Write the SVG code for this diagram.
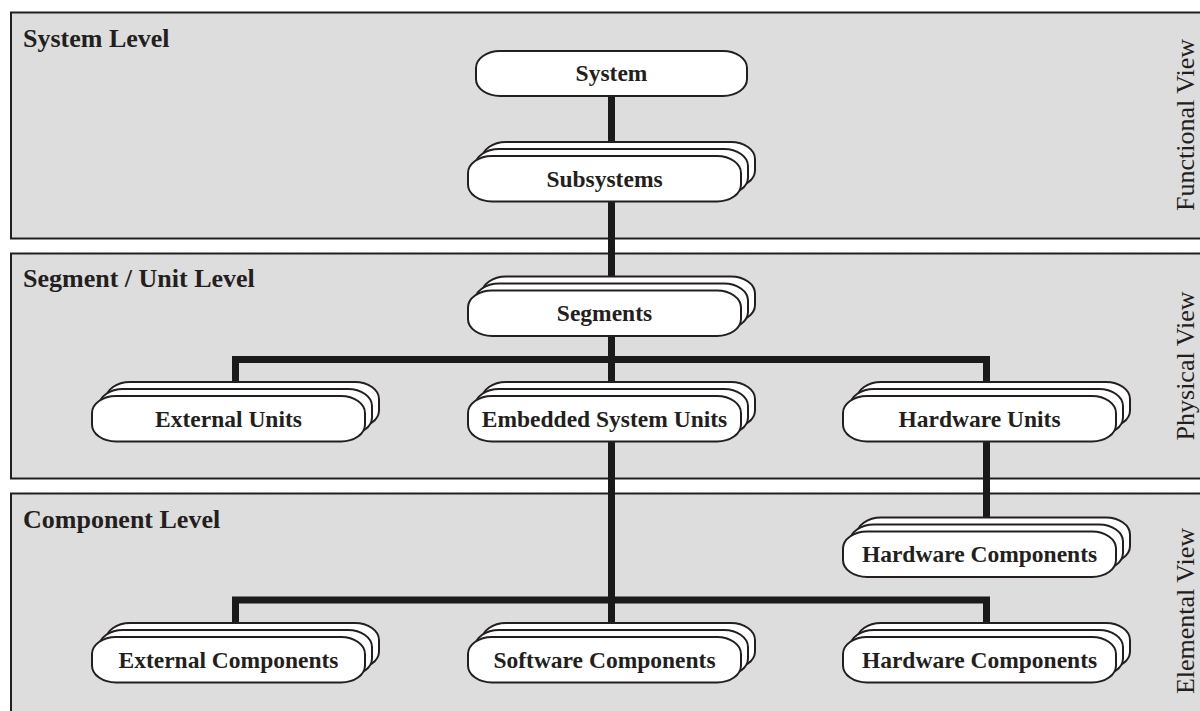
<svg xmlns="http://www.w3.org/2000/svg" xmlns:xlink="http://www.w3.org/1999/xlink" width="1200" height="711" viewBox="0 0 1200 711">
  <style>
    .panel { fill: #dddddd; stroke: #231f20; stroke-width: 2; }
    .level { font-family: "Liberation Serif", "Times New Roman", serif; font-weight: bold; font-size: 26px; fill: #231f20; }
    .view { font-family: "Liberation Serif", "Times New Roman", serif; font-size: 26px; fill: #231f20; text-anchor: middle; }
    .box { fill: #ffffff; stroke: #231f20; stroke-width: 2; }
    .label { font-family: "Liberation Serif", "Times New Roman", serif; font-weight: bold; font-size: 23.5px; fill: #231f20; text-anchor: middle; }
    .link { fill: none; stroke: #1a1a1a; stroke-width: 7; stroke-linejoin: miter; stroke-linecap: butt; }
  </style>
  <defs>
    <!-- three stacked pills: back, middle, front (front sits at 0,0) -->
    <g id="stack">
      <rect class="box" x="14" y="-14" width="273" height="45.5" rx="24" ry="17"/>
      <rect class="box" x="7" y="-7" width="273" height="45.5" rx="24" ry="17"/>
      <rect class="box" x="0" y="0" width="273" height="45.5" rx="24" ry="17"/>
    </g>
  </defs>

  <rect width="1200" height="711" fill="#ffffff"/>

  <!-- level bands -->
  <g id="bands">
    <rect class="panel" x="11" y="12.5" width="1200" height="226"/>
    <rect class="panel" x="11" y="253.5" width="1200" height="225"/>
    <rect class="panel" x="11" y="493.5" width="1200" height="230"/>
    <text class="level" x="23" y="47">System Level</text>
    <text class="level" x="23" y="287">Segment / Unit Level</text>
    <text class="level" x="23" y="528">Component Level</text>
    <text class="view" transform="translate(1194,125) rotate(-90)">Functional View</text>
    <text class="view" transform="translate(1194,366) rotate(-90)">Physical View</text>
    <text class="view" transform="translate(1194,611) rotate(-90)">Elemental View</text>
  </g>

  <!-- connectors -->
  <g id="connectors">
    <path class="link" d="M611.5 96 V142"/>
    <path class="link" d="M611.5 201.5 V276.5"/>
    <path class="link" d="M611.5 336 V382"/>
    <path class="link" d="M235.5 382 V359.5 H986.5 V382"/>
    <path class="link" d="M611.5 441.5 V623"/>
    <path class="link" d="M986.5 441.5 V517.5"/>
    <path class="link" d="M235.5 623 V600 H986.5 V623"/>
  </g>

  <!-- nodes -->
  <g id="node-system">
    <rect class="box" x="476" y="51" width="271" height="45" rx="24" ry="17"/>
    <text class="label" x="611.5" y="81">System</text>
  </g>
  <g id="node-subsystems">
    <use xlink:href="#stack" x="468" y="156"/>
    <text class="label" x="604.5" y="186.5">Subsystems</text>
  </g>
  <g id="node-segments">
    <use xlink:href="#stack" x="468" y="290.5"/>
    <text class="label" x="604.5" y="321">Segments</text>
  </g>
  <g id="node-external-units">
    <use xlink:href="#stack" x="92" y="396"/>
    <text class="label" x="228.5" y="426.5">External Units</text>
  </g>
  <g id="node-embedded-units">
    <use xlink:href="#stack" x="468" y="396"/>
    <text class="label" x="604.5" y="426.5">Embedded System Units</text>
  </g>
  <g id="node-hardware-units">
    <use xlink:href="#stack" x="843" y="396"/>
    <text class="label" x="979.5" y="426.5">Hardware Units</text>
  </g>
  <g id="node-hardware-components-upper">
    <use xlink:href="#stack" x="843" y="531.5"/>
    <text class="label" x="979.5" y="562">Hardware Components</text>
  </g>
  <g id="node-external-components">
    <use xlink:href="#stack" x="92" y="637"/>
    <text class="label" x="228.5" y="667.5">External Components</text>
  </g>
  <g id="node-software-components">
    <use xlink:href="#stack" x="468" y="637"/>
    <text class="label" x="604.5" y="667.5">Software Components</text>
  </g>
  <g id="node-hardware-components-lower">
    <use xlink:href="#stack" x="843" y="637"/>
    <text class="label" x="979.5" y="667.5">Hardware Components</text>
  </g>
</svg>
